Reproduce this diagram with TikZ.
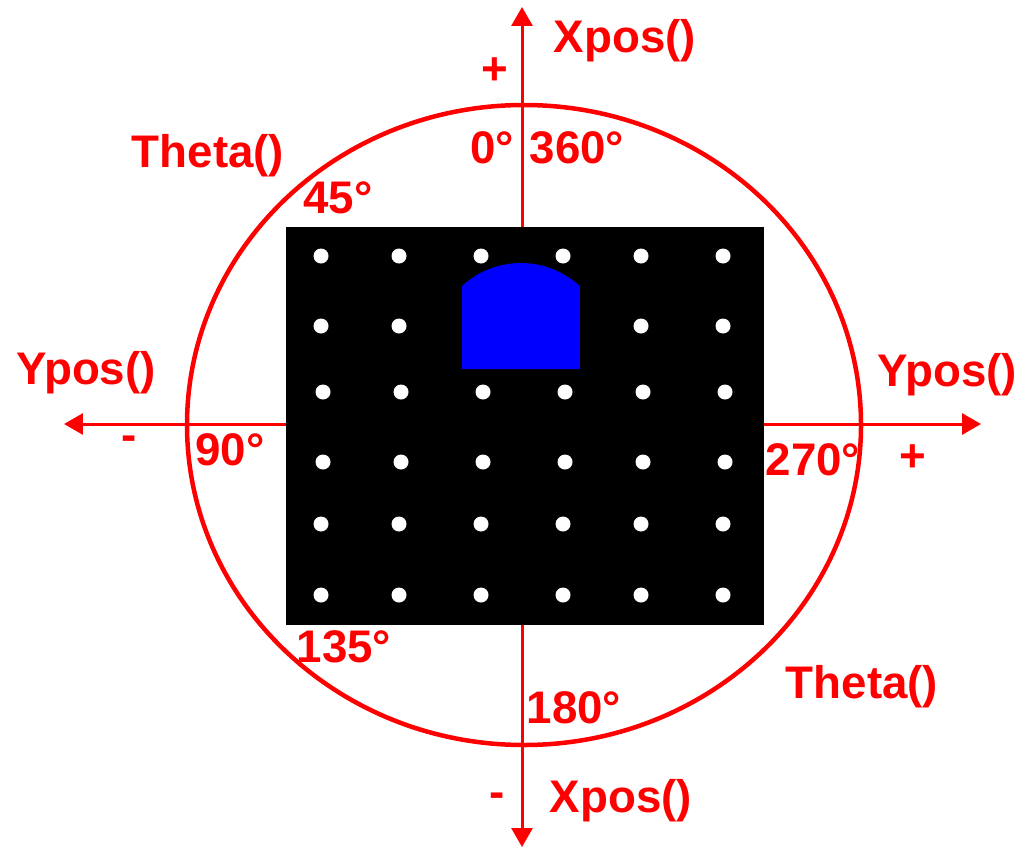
\documentclass[tikz,border=0pt]{standalone}
\usepackage{fontspec}
\setmainfont{Liberation Sans}
\usetikzlibrary{arrows.meta}

\begin{document}
\begin{tikzpicture}[x=0.02cm, y=-0.02cm,
    lbl/.style={font=\fontsize{26}{31}\selectfont\bfseries, text=red, inner sep=0pt},
    axis/.style={{Triangle[length=0.38cm, width=0.42cm]}-{Triangle[length=0.38cm, width=0.42cm]},
                 red, line width=0.06cm},
    ring/.style={red, line width=0.09cm},
    hole/.style={fill=white}
  ]
  \useasboundingbox (0,0) rectangle (1026,848);
  % Axis ends
  \coordinate (xtop) at (522,7);
  \coordinate (xbot) at (522,847);
  \coordinate (yleft) at (64,424);
  \coordinate (yright) at (981,424);
  \draw[axis] (xbot) -- (xtop);
  \draw[axis] (yleft) -- (yright);
  % Theta circle
  \draw[ring] (524,425) ellipse [x radius=337, y radius=320];
  % Board with holes
  \fill[black] (286,227) rectangle (764,625);
  \foreach \y/\dx in {256/0, 326/0, 392/2, 462/2, 524/0, 595/0} {
    \foreach \x in {321,399,481,563,641,723}
      \fill[hole] (\x+\dx,\y) circle [radius=7.5];
  }
  % Robot
  \fill[blue] (462,369) -- (462,286)
    arc [start angle=227.4, end angle=312.6, radius=87] -- (580,369) -- cycle;
  % Labels
  \node[lbl] (xposT) at (625,41) {Xpos()};
  \node[lbl] (plusT) at (495,71) {+};
  \node[lbl] (deg0) at (492,148) {0°};
  \node[lbl] (deg360) at (577,148) {360°};
  \node[lbl] (thetaT) at (208,156) {Theta()};
  \node[lbl] (deg45) at (338,198) {45°};
  \node[lbl] (yposL) at (86,373) {Ypos()};
  \node[lbl] (minusL) at (129,443) {-};
  \node[lbl] (deg90) at (230,450) {90°};
  \node[lbl] (yposR) at (947,375) {Ypos()};
  \node[lbl] (deg270) at (813,460) {270°};
  \node[lbl] (plusR) at (913,458) {+};
  \node[lbl] (deg135) at (344,647) {135°};
  \node[lbl] (deg180) at (574,708) {180°};
  \node[lbl] (thetaB) at (862,687) {Theta()};
  \node[lbl] (minusB) at (497,800) {-};
  \node[lbl] (xposB) at (621,801) {Xpos()};
\end{tikzpicture}
\end{document}
